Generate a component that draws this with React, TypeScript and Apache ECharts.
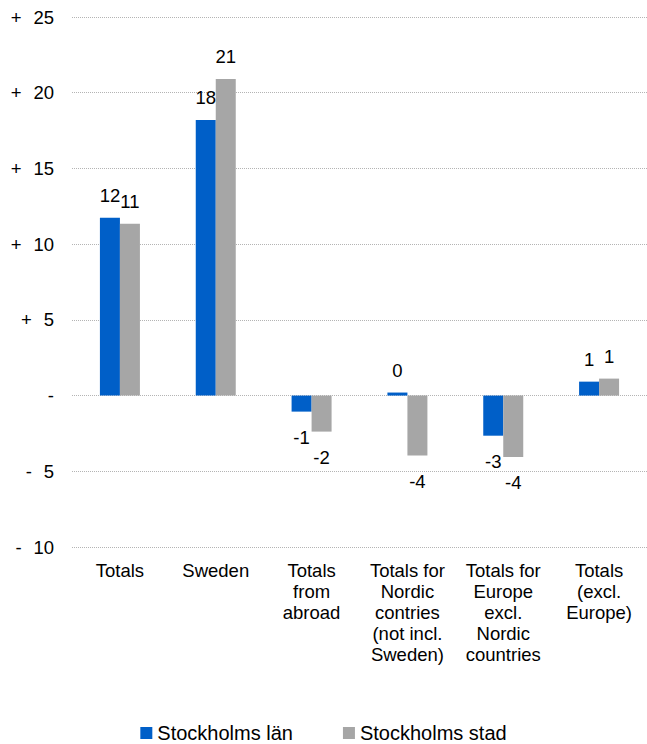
import React, { useEffect, useRef } from "react";
import * as echarts from "echarts";

const categories = [
  "Totals",
  "Sweden",
  "Totals\nfrom\nabroad",
  "Totals for\nNordic\ncontries\n(not incl.\nSweden)",
  "Totals for\nEurope\nexcl.\nNordic\ncountries",
  "Totals\n(excl.\nEurope)",
];
const seriesNames = ["Stockholms län", "Stockholms stad"];
const lanValues = [11.75, 18.2, -1.06, 0.2, -2.65, 0.92];
const stadValues = [11.35, 20.9, -2.38, -3.96, -4.05, 1.12];
const colors = ["#005FC8", "#A6A6A6"];
const yMin = -10;
const yMax = 25;
const yInterval = 5;

const FONT = "'Liberation Sans', Arial, sans-serif";
const GAP = "\u00A0\u00A0\u200A";

function formatTick(v: number): string {
  if (v > 0) return "+" + GAP + v;
  if (v < 0) return "-" + GAP + Math.abs(v);
  return "-";
}

function buildData(values: number[]) {
  return values.map((v) => ({
    value: v,
    label: {
      show: true,
      position: v >= 0 ? "top" : "bottom",
      distance: v >= 0 ? 13 : 16,
      formatter: () => String(Math.round(v)),
      color: "#000",
      fontSize: 18.5,
      fontFamily: FONT,
    },
  }));
}

export default function App() {
  const ref = useRef<HTMLDivElement>(null);
  useEffect(() => {
    if (!ref.current) return;
    const chart = echarts.init(ref.current, undefined, { renderer: "svg" });
    chart.setOption({
      animation: false,
      textStyle: { fontFamily: FONT },
      grid: { left: 72, right: 0, top: 17, bottom: 197, containLabel: false },
      legend: {
        data: seriesNames,
        left: "center",
        top: 723,
        padding: 0,
        icon: "rect",
        itemWidth: 12,
        itemHeight: 12,
        itemGap: 50,
        textStyle: { fontSize: 20, color: "#000", fontFamily: FONT },
      },
      xAxis: {
        type: "category",
        data: categories,
        axisLine: { show: false },
        axisTick: { show: false },
        axisLabel: {
          interval: 0,
          margin: 13,
          fontSize: 18.5,
          lineHeight: 21,
          color: "#000",
          fontFamily: FONT,
          align: "center",
          verticalAlign: "top",
        },
      },
      yAxis: {
        type: "value",
        min: yMin,
        max: yMax,
        interval: yInterval,
        axisLine: { show: false },
        axisTick: { show: false },
        axisLabel: {
          margin: 18,
          fontSize: 18.5,
          color: "#000",
          fontFamily: FONT,
          formatter: formatTick,
        },
        splitLine: { lineStyle: { type: "dotted", color: "#B4B4B4", width: 1 } },
      },
      series: [
        {
          name: seriesNames[0],
          type: "bar",
          data: buildData(lanValues),
          barWidth: 20,
          barGap: "0%",
          itemStyle: { color: colors[0] },
        },
        {
          name: seriesNames[1],
          type: "bar",
          data: buildData(stadValues),
          barWidth: 20,
          barGap: "0%",
          itemStyle: { color: colors[1] },
        },
      ],
    });
    return () => chart.dispose();
  }, []);
  return (
    <div
      ref={ref}
      style={{ position: "absolute", left: 0, top: 0, width: 647, height: 744 }}
    />
  );
}
